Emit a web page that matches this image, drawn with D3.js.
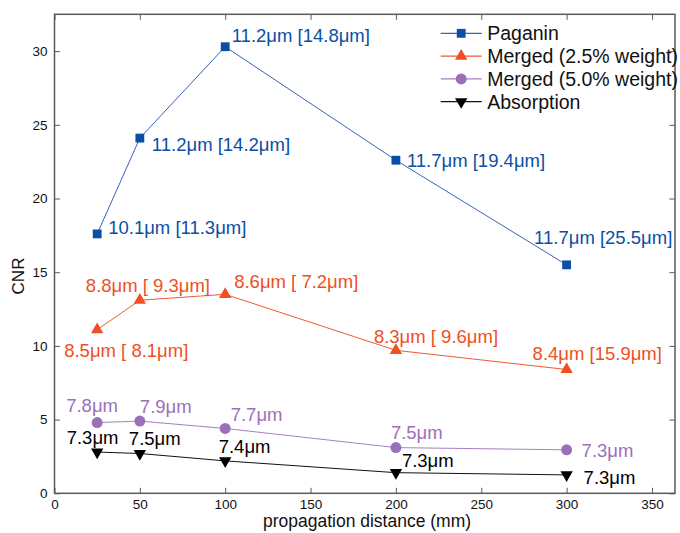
<!DOCTYPE html>
<html>
<head>
<meta charset="utf-8">
<script src="https://cdn.jsdelivr.net/npm/d3@7"></script>
<style>
  body { margin: 0; background: #fff; }
  text { font-family: "Liberation Sans", Arial, Helvetica, sans-serif; }
</style>
</head>
<body>
<div id="chart"></div>
<script>
// data
var distances = [25, 50, 100, 200, 300];
var seriesNames = ["Paganin", "Merged (2.5% weight)", "Merged (5.0% weight)", "Absorption"];

var paganinCNR = [17.6, 24.1, 30.3, 22.6, 15.5];
var merged25CNR = [11.1, 13.1, 13.5, 9.7, 8.4];
var merged50CNR = [4.8, 4.9, 4.4, 3.1, 2.95];
var absorptionCNR = [2.8, 2.7, 2.2, 1.4, 1.25];

var paganinLabels = ["10.1\u03bcm [11.3\u03bcm]", "11.2\u03bcm [14.2\u03bcm]", "11.2\u03bcm [14.8\u03bcm]", "11.7\u03bcm [19.4\u03bcm]", "11.7\u03bcm [25.5\u03bcm]"];
var merged25Labels = ["8.5\u03bcm [ 8.1\u03bcm]", "8.8\u03bcm [ 9.3\u03bcm]", "8.6\u03bcm [ 7.2\u03bcm]", "8.3\u03bcm [ 9.6\u03bcm]", "8.4\u03bcm [15.9\u03bcm]"];
var merged50Labels = ["7.8\u03bcm", "7.9\u03bcm", "7.7\u03bcm", "7.5\u03bcm", "7.3\u03bcm"];
var absorptionLabels = ["7.3\u03bcm", "7.5\u03bcm", "7.4\u03bcm", "7.3\u03bcm", "7.3\u03bcm"];

var xTicks = [0, 50, 100, 150, 200, 250, 300, 350];
var yTicks = [0, 5, 10, 15, 20, 25, 30];

// layout
var svgWidth = 680, svgHeight = 533;
var margin = { top: 14.3, right: 5, bottom: 39.7, left: 54.5 };
var width = svgWidth - margin.left - margin.right;
var height = svgHeight - margin.top - margin.bottom;

var svg = d3.select("#chart").append("svg")
  .attr("width", svgWidth)
  .attr("height", svgHeight);

var chartGroup = svg.append("g")
  .attr("transform", `translate(${margin.left}, ${margin.top})`);

var xScale = d3.scaleLinear().domain([0, 363.5]).range([0, width]);
var yScale = d3.scaleLinear().domain([0, 32.5]).range([height, 0]);

var frameColor = "#5a5a5a";
var tickLen = 5.5;

// axes, ticks inside on all four sides (matlab style)
var bottomAxis = d3.axisBottom(xScale).tickValues(xTicks).tickSizeInner(-tickLen).tickSizeOuter(0).tickPadding(6);
var topAxis = d3.axisTop(xScale).tickValues(xTicks).tickSizeInner(-tickLen).tickSizeOuter(0).tickFormat("");
var leftAxis = d3.axisLeft(yScale).tickValues(yTicks).tickSizeInner(-tickLen).tickSizeOuter(0).tickPadding(7);
var rightAxis = d3.axisRight(yScale).tickValues(yTicks).tickSizeInner(-tickLen).tickSizeOuter(0).tickFormat("");

function styleAxis(g) {
  g.select(".domain").remove();
  g.selectAll(".tick line").attr("stroke", frameColor).attr("stroke-width", 1);
  g.selectAll(".tick text").attr("fill", "#111").style("font-size", "13.5px")
    .style("font-family", "'Liberation Sans', Arial, sans-serif");
}

chartGroup.append("g").attr("transform", `translate(0, ${height})`).call(bottomAxis).call(styleAxis);
chartGroup.append("g").call(topAxis).call(styleAxis);
chartGroup.append("g").call(leftAxis).call(styleAxis);
chartGroup.append("g").attr("transform", `translate(${width}, 0)`).call(rightAxis).call(styleAxis);

chartGroup.append("rect")
  .attr("x", 0).attr("y", 0)
  .attr("width", width).attr("height", height)
  .attr("fill", "none")
  .attr("stroke", frameColor)
  .attr("stroke-width", 1.5);

// series
var series = [
  { name: seriesNames[0], values: paganinCNR, labels: paganinLabels, color: "#0a4fa6", lineColor: "#3a62b8", symbol: d3.symbolSquare, size: 78, rot: 0,
    offsets: [[11, -6.5], [12, 6.5], [6.5, -11.5], [11, 0], [-32.5, -27]] },
  { name: seriesNames[1], values: merged25CNR, labels: merged25Labels, color: "#f04f24", lineColor: "#f05a32", symbol: d3.symbolTriangle, size: 66, rot: 0,
    offsets: [[-33, 21], [-54, -15], [9, -13], [-22, -14], [-34, -16]] },
  { name: seriesNames[2], values: merged50CNR, labels: merged50Labels, color: "#9c70b8", lineColor: "#a680c2", symbol: d3.symbolCircle, size: 95, rot: 0,
    offsets: [[-31, -17], [0, -15], [5.5, -14], [-5, -15], [15, 1]] },
  { name: seriesNames[3], values: absorptionCNR, labels: absorptionLabels, color: "#000000", lineColor: "#111111", symbol: d3.symbolTriangle, size: 66, rot: 180,
    offsets: [[-30.5, -15], [-11, -15], [-6.5, -14], [6, -12], [17, 3]] }
];

var line = d3.line()
  .x(d => xScale(d.x))
  .y(d => yScale(d.y));

series.forEach(function(s) {
  var pts = distances.map((x, i) => ({ x: x, y: s.values[i], label: s.labels[i], off: s.offsets[i] }));

  chartGroup.append("path")
    .datum(pts)
    .attr("d", line)
    .attr("fill", "none")
    .attr("stroke", s.lineColor)
    .attr("stroke-width", 1);

  chartGroup.selectAll(null)
    .data(pts)
    .enter()
    .append("path")
    .attr("d", d3.symbol().type(s.symbol).size(s.size))
    .attr("transform", d => `translate(${xScale(d.x)}, ${yScale(d.y)}) rotate(${s.rot})`)
    .attr("fill", s.color);

  chartGroup.selectAll(null)
    .data(pts)
    .enter()
    .append("text")
    .attr("x", d => xScale(d.x) + d.off[0])
    .attr("y", d => yScale(d.y) + d.off[1])
    .attr("dy", "0.35em")
    .attr("fill", s.color)
    .style("font-size", "18.5px")
    .text(d => d.label);
});

// legend
var legend = svg.append("g").attr("transform", "translate(440.7, 33.3)");
series.forEach(function(s, i) {
  var row = legend.append("g").attr("transform", `translate(0, ${i * 22.8})`);
  row.append("line")
    .attr("x1", 0).attr("x2", 41)
    .attr("y1", 0).attr("y2", 0)
    .attr("stroke", s.lineColor)
    .attr("stroke-width", 1.2);
  row.append("path")
    .attr("d", d3.symbol().type(s.symbol).size(s.size))
    .attr("transform", `translate(20.5, 0) rotate(${s.rot})`)
    .attr("fill", s.color);
  row.append("text")
    .attr("x", 46.5)
    .attr("y", 0)
    .attr("dy", "0.35em")
    .attr("fill", "#111")
    .style("font-size", "19.5px")
    .text(s.name);
});

// axis labels
svg.append("text")
  .attr("transform", "translate(24, 276) rotate(-90)")
  .attr("text-anchor", "middle")
  .attr("fill", "#111")
  .style("font-size", "17px")
  .text("CNR");

svg.append("text")
  .attr("x", 367)
  .attr("y", 527)
  .attr("text-anchor", "middle")
  .attr("fill", "#111")
  .style("font-size", "17.5px")
  .text("propagation distance (mm)");
</script>
</body>
</html>
